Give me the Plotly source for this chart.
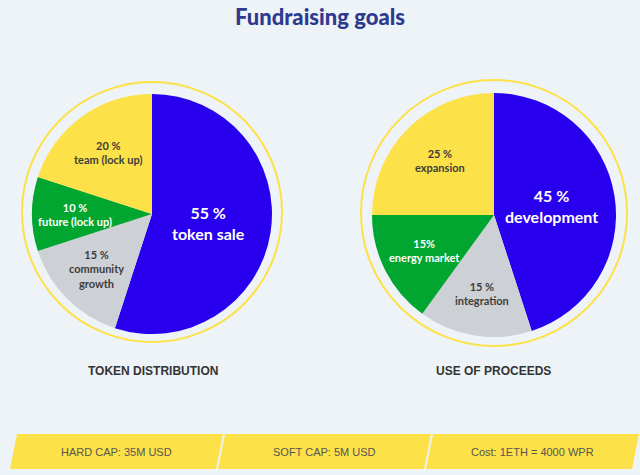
import math
import plotly.graph_objects as go

# ---- data ----
dist_labels = ["token sale", "community growth", "future (lock up)", "team (lock up)"]
dist_values = [55, 15, 10, 20]
dist_text = ["55 %<br>token sale", "15 %<br>community<br>growth", "10 %<br>future (lock up)", "20 %<br>team (lock up)"]

use_labels = ["development", "integration", "energy market", "expansion"]
use_values = [45, 15, 15, 25]
use_text = ["45 %<br>development", "15 %<br>integration", "15%<br>energy market", "25 %<br>expansion"]

chart_titles = ["TOKEN DISTRIBUTION", "USE OF PROCEEDS"]
banner_texts = ["HARD CAP: 35M USD", "SOFT CAP: 5M USD", "Cost: 1ETH = 4000 WPR"]
main_title = "Fundraising goals"

# ---- styles ----
W, H = 640, 475
BG = "#eef3f8"
BLUE = "#2800ee"
GRAY = "#cdd0d4"
GREEN = "#00a62f"
YELLOW = "#fde148"
slice_colors = [BLUE, GRAY, GREEN, YELLOW]
label_colors = ["white", "#3d3d3d", "white", "#3d3d3d"]
label_sizes = [16, 11, 11, 11]
label_radius = [0.48, 0.65, 0.64, 0.63]

def px(x):
    return x / W

def py(y):
    return 1 - y / H

pies = [
    dict(labels=dist_labels, values=dist_values, text=dist_text, cx=152, cy=214, r=120, ring=(152, 212, 130)),
    dict(labels=use_labels, values=use_values, text=use_text, cx=494, cy=215, r=122, ring=(494, 213, 133)),
]

fig = go.Figure()
annotations = []
shapes = []

def ann(x, y, text, font):
    return dict(x=px(x), y=py(y), xref="paper", yref="paper", showarrow=False,
                xanchor="center", yanchor="middle", align="center", text=text, font=font)

for p in pies:
    cx, cy, r = p["cx"], p["cy"], p["r"]
    fig.add_trace(go.Pie(
        labels=p["labels"], values=p["values"], sort=False, direction="clockwise",
        rotation=0, textinfo="none", hoverinfo="label+percent",
        marker=dict(colors=slice_colors, line=dict(width=0)),
        domain=dict(x=[px(cx - r), px(cx + r)], y=[py(cy + r), py(cy - r)]),
        showlegend=False,
    ))
    rx, ry, rr = p["ring"]
    shapes.append(dict(type="circle", xref="paper", yref="paper",
                       x0=px(rx - rr), x1=px(rx + rr), y0=py(ry + rr), y1=py(ry - rr),
                       line=dict(color=YELLOW, width=2), layer="below"))
    total = sum(p["values"])
    cum = 0
    for i, v in enumerate(p["values"]):
        theta = math.radians((cum + v / 2) / total * 360)
        cum += v
        rad = label_radius[i] * r
        x = cx + rad * math.sin(theta)
        y = cy - rad * math.cos(theta)
        annotations.append(ann(x, y, p["text"][i],
                               dict(family="Lato", size=label_sizes[i], color=label_colors[i], weight="bold")))

for t, cx in zip(chart_titles, [153, 493]):
    annotations.append(ann(cx, 371, t, dict(family="Liberation Sans", size=12, color="#333333", weight="bold")))

banner_tops = [(17, 223), (225, 431), (433, 639)]
slant = 7
ytop, ybot = 434, 469
for (x0, x1), t in zip(banner_tops, banner_texts):
    path = (f"M {px(x0)} {py(ytop)} L {px(x1)} {py(ytop)} "
            f"L {px(x1 - slant)} {py(ybot)} L {px(x0 - slant)} {py(ybot)} Z")
    shapes.append(dict(type="path", xref="paper", yref="paper", path=path,
                       fillcolor=YELLOW, line=dict(width=0), layer="below"))
    annotations.append(ann((x0 + x1 - slant) / 2, 452, t,
                           dict(family="Liberation Sans", size=11, color="#555555")))

annotations.append(ann(320, 17, main_title, dict(family="Lato", size=22, color="#2e3a8e", weight=900)))

fig.update_layout(
    width=W, height=H, margin=dict(l=0, r=0, t=0, b=0),
    paper_bgcolor=BG, plot_bgcolor=BG,
    annotations=annotations, shapes=shapes,
)

fig.write_html("out.html", config={"displayModeBar": False},
               post_script="document.body.style.margin='0';")
